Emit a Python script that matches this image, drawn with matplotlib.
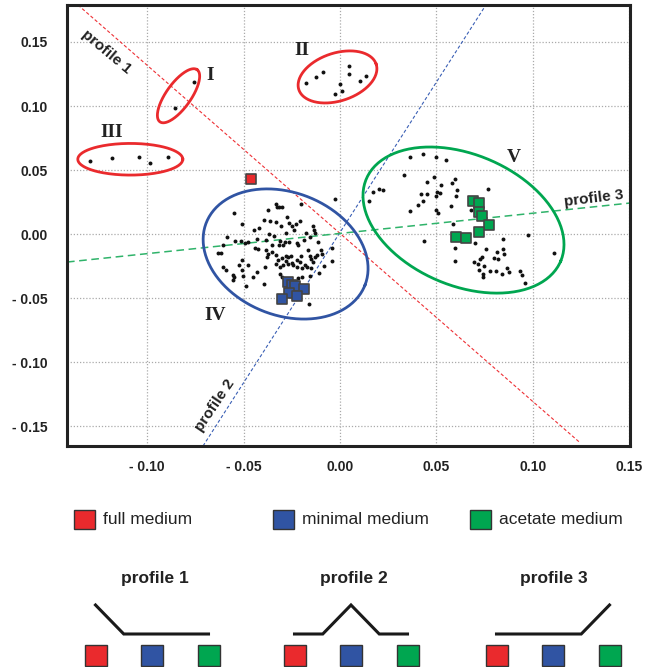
import numpy as np
import matplotlib
matplotlib.use("Agg")
from matplotlib import pyplot as plt
from matplotlib.patches import Rectangle
from matplotlib.ticker import FuncFormatter, MultipleLocator

# --- data -------------------------------------------------------------
# black dots, grouped by cluster
c1_x = [-0.0758, -0.0854]
c1_y = [0.1189, 0.0982]

c2_x = [-0.0176, -0.0123, -0.0086, -0.0027, 0.0002, 0.0010, 0.0045, 0.0045, 0.0105, 0.0133]
c2_y = [0.1178, 0.1224, 0.1268, 0.1091, 0.1169, 0.1114, 0.1313, 0.1252, 0.1198, 0.1234]

c3_x = [-0.1295, -0.1181, -0.1040, -0.0984, -0.0889]
c3_y = [0.0570, 0.0591, 0.0604, 0.0557, 0.0604]

c4_x = [-0.0549, -0.0508, -0.0444, -0.0420, -0.0373, -0.0333, -0.0326, -0.0316, -0.0302, -0.0392,
        -0.0361, -0.0332, -0.0307, -0.0273, -0.0266, -0.0247, -0.0228, -0.0207, -0.0204, -0.0138,
        -0.0135, -0.0178, -0.0238, -0.0280, -0.0604, -0.0587, -0.0544, -0.0513, -0.0491, -0.0475,
        -0.0442, -0.0432, -0.0383, -0.0366, -0.0340, -0.0311, -0.0283, -0.0263, -0.0221, -0.0187,
        -0.0216, -0.0155, -0.0128, -0.0116, -0.0630, -0.0618, -0.0427, -0.0385, -0.0352, -0.0318,
        -0.0294, -0.0371, -0.0378, -0.0351, -0.0332, -0.0320, -0.0302, -0.0282, -0.0268, -0.0254,
        -0.0280, -0.0247, -0.0221, -0.0207, -0.0204, -0.0168, -0.0157, -0.0131, -0.0121, -0.0100,
        -0.0092, -0.0043, -0.0150, -0.0142, -0.0181, -0.0169, -0.0152, -0.0333, -0.0309, -0.0294,
        -0.0271, -0.0242, -0.0225, -0.0199, -0.0606, -0.0591, -0.0525, -0.0506, -0.0477, -0.0508,
        -0.0553, -0.0547, -0.0556, -0.0503, -0.0451, -0.0432, -0.0389, -0.0311, -0.0302, -0.0216,
        -0.0195, -0.0155, -0.0109, -0.0083, -0.0040, -0.0487, -0.0392, -0.0024, -0.0159]
c4_y = [0.0161, 0.0076, 0.0031, 0.0044, 0.0188, 0.0232, 0.0211, 0.0214, 0.0214, 0.0109,
        0.0102, 0.0091, 0.0065, 0.0130, 0.0086, 0.0065, 0.0078, 0.0102, 0.0234, 0.0063,
        0.0031, 0.0010, 0.0031, 0.0010, -0.0086, -0.0021, -0.0052, -0.0055, -0.0068, -0.0063,
        -0.0107, -0.0036, -0.0047, 0.0000, -0.0016, -0.0055, -0.0060, -0.0060, -0.0070, -0.0047,
        -0.0086, -0.0026, 0.0010, -0.0065, -0.0148, -0.0148, -0.0115, -0.0125, -0.0086, -0.0086,
        -0.0083, -0.0159, -0.0182, -0.0141, -0.0164, -0.0203, -0.0190, -0.0169, -0.0177, -0.0174,
        -0.0211, -0.0229, -0.0203, -0.0221, -0.0172, -0.0128, -0.0174, -0.0177, -0.0167, -0.0125,
        -0.0159, -0.0112, -0.0195, -0.0216, -0.0242, -0.0260, -0.0263, -0.0234, -0.0260, -0.0245,
        -0.0237, -0.0245, -0.0255, -0.0268, -0.0260, -0.0281, -0.0245, -0.0203, -0.0242, -0.0281,
        -0.0320, -0.0339, -0.0359, -0.0328, -0.0333, -0.0297, -0.0255, -0.0315, -0.0333, -0.0346,
        -0.0333, -0.0328, -0.0307, -0.0250, -0.0208, -0.0404, -0.0391, 0.0271, -0.0549]

c5_x = [0.0363, 0.0428, 0.0497, 0.0549, 0.0332, 0.0449, 0.0487, 0.0523, 0.0579, 0.0596,
        0.0608, 0.0601, 0.0577, 0.0501, 0.0497, 0.0520, 0.0418, 0.0449, 0.0430, 0.0406,
        0.0365, 0.0499, 0.0508, 0.0200, 0.0221, 0.0173, 0.0150, 0.0587, 0.0437, 0.0597,
        0.0594, 0.0765, 0.0677, 0.0846, 0.0976, 0.0699, 0.0755, 0.0815, 0.0846, 0.0851,
        0.0796, 0.0817, 0.0734, 0.0725, 0.0696, 0.0713, 0.0744, 0.0720, 0.0741, 0.0743,
        0.0777, 0.0807, 0.0841, 0.0864, 0.0876, 0.0933, 0.0945, 0.0958, 0.1111]
c5_y = [0.0599, 0.0625, 0.0604, 0.0578, 0.0458, 0.0406, 0.0448, 0.0383, 0.0396, 0.0430,
        0.0344, 0.0297, 0.0221, 0.0326, 0.0297, 0.0318, 0.0313, 0.0310, 0.0260, 0.0227,
        0.0177, 0.0188, 0.0161, 0.0354, 0.0344, 0.0328, 0.0258, 0.0076, -0.0052, -0.0112,
        -0.0211, 0.0349, 0.0188, -0.0036, -0.0008, -0.0073, -0.0115, -0.0138, -0.0115, -0.0159,
        -0.0190, -0.0193, -0.0177, -0.0198, -0.0221, -0.0237, -0.0250, -0.0281, -0.0315, -0.0333,
        -0.0289, -0.0289, -0.0315, -0.0268, -0.0294, -0.0286, -0.0318, -0.0380, -0.0151]

# coloured samples
full_x = [-0.0463]
full_y = [0.0432]
minimal_x = [-0.0272, -0.0249, -0.0231, -0.0188, -0.0263, -0.0224, -0.0299]
minimal_y = [-0.0377, -0.0395, -0.0410, -0.0427, -0.0459, -0.0484, -0.0507]
acetate_x = [0.0691, 0.0720, 0.0720, 0.0737, 0.0770, 0.0721, 0.0602, 0.0651]
acetate_y = [0.0254, 0.0240, 0.0172, 0.0143, 0.0070, 0.0013, -0.0021, -0.0033]

# groups: label, centre, half axes (in x units), tilt (deg), label position
group_names = ["I", "II", "III", "IV", "V"]
group_cx = [-0.0837, -0.0013, -0.1087, -0.0282, 0.0640]
group_cy = [0.1080, 0.1227, 0.0584, -0.0156, 0.0109]
group_a = [0.0166, 0.0211, 0.0272, 0.0442, 0.0547]
group_b = [0.0064, 0.0124, 0.0082, 0.0318, 0.0340]
group_tilt = [54.5, 18.2, 0.0, -21.5, -22.9]
group_lx = [-0.0674, -0.0195, -0.1183, -0.0648, 0.0903]
group_ly = [0.1242, 0.1430, 0.0794, -0.0633, 0.0599]

# profile axes through the score plot
prof_names = ["profile 1", "profile 2", "profile 3"]
prof_x = [[-0.1358, 0.1244], [-0.0710, 0.0756], [-0.1415, 0.1503]]
prof_y = [[0.1789, -0.1630], [-0.1656, 0.1789], [-0.0219, 0.0242]]
prof_lx = [-0.1212, -0.0648, 0.1316]
prof_ly = [0.1422, -0.1336, 0.0281]
prof_rot = [-40, 56, 7]

medium_names = ["full medium", "minimal medium", "acetate medium"]
# sketch of each profile: high (1) or low (0) for full / minimal / acetate
sketch_levels = [[1, 0, 0], [0, 1, 0], [0, 0, 1]]

RED = "#ea2a2d"
BLUE = "#3054a3"
GREEN = "#00a650"
med_colors = [RED, BLUE, GREEN]
ell_colors = [RED, RED, RED, BLUE, GREEN]
line_colors = ["#ee3035", "#3a5fb5", "#2fb36a"]
TXT = "#222222"

plt.rcParams['font.family'] = ['Liberation Sans', 'DejaVu Sans']

fig = plt.figure(figsize=(6.53, 6.67), dpi=100)
ax = fig.add_axes([67 / 653, 1 - 446 / 667, 563 / 653, 441 / 667])
ax.set_xlim(-0.1415, 0.1503)
ax.set_ylim(-0.1656, 0.1789)

ax.xaxis.set_major_locator(MultipleLocator(0.05))
ax.yaxis.set_major_locator(MultipleLocator(0.05))
fmt = FuncFormatter(lambda v, p: "0.00" if abs(v) < 1e-9 else
                    (f"{v:.2f}" if v > 0 else f"- {abs(v):.2f}"))
ax.xaxis.set_major_formatter(fmt)
ax.yaxis.set_major_formatter(fmt)
ax.tick_params(length=0, labelsize=10, labelcolor=TXT)
ax.tick_params(axis='x', pad=10)
ax.tick_params(axis='y', pad=14)
for lab in ax.get_xticklabels() + ax.get_yticklabels():
    lab.set_fontweight('bold')
ax.grid(True, color='#aaaaaa', linestyle=(0, (1, 1.5)), lw=0.9)
ax.set_axisbelow(True)
for s in ax.spines.values():
    s.set_linewidth(2.2)
    s.set_color(TXT)

# profile lines
dashes = [(0, (3, 2)), (0, (3, 2)), (0, (5, 3))]
widths = [0.8, 0.8, 1.1]
for i in range(3):
    ax.plot(prof_x[i], prof_y[i], color=line_colors[i], lw=widths[i],
            linestyle=dashes[i], zorder=2)
    ax.text(prof_lx[i], prof_ly[i], prof_names[i], rotation=prof_rot[i],
            rotation_mode='anchor', ha='center', va='center', fontsize=11,
            fontweight='bold', color=TXT, zorder=5)

# ellipses: shape is given on screen, so scale y by the pixel aspect
fig.canvas.draw()
bb = ax.get_window_extent()
k = (bb.width / (0.1503 + 0.1415)) / (bb.height / (0.1789 + 0.1656))
t = np.linspace(0, 2 * np.pi, 200)
for i in range(5):
    th = np.radians(group_tilt[i])
    u = group_a[i] * np.cos(t) * np.cos(th) - group_b[i] * np.sin(t) * np.sin(th)
    v = group_a[i] * np.cos(t) * np.sin(th) + group_b[i] * np.sin(t) * np.cos(th)
    ax.plot(group_cx[i] + u, group_cy[i] + v * k, color=ell_colors[i], lw=2.0, zorder=3)
    ax.text(group_lx[i], group_ly[i], group_names[i], ha='center', va='center',
            fontsize=14, fontweight='bold', family='Liberation Serif', color=TXT)

# dots
for xs, ys in [(c1_x, c1_y), (c2_x, c2_y), (c3_x, c3_y), (c4_x, c4_y), (c5_x, c5_y)]:
    ax.scatter(xs, ys, s=8, color='#111111', linewidths=0, zorder=4)

for xs, ys, c in [(full_x, full_y, RED), (minimal_x, minimal_y, BLUE),
                  (acetate_x, acetate_y, GREEN)]:
    ax.scatter(xs, ys, s=55, marker='s', color=c, edgecolors='#444444',
               linewidths=1.2, zorder=6)

# --- lower part: legend and profile sketches (pixel coordinates) -------
ov = fig.add_axes([0, 0, 1, 1])
ov.set_xlim(0, 653)
ov.set_ylim(667, 0)
ov.axis('off')

leg_sq = [84, 283, 480]
for i in range(3):
    ov.add_patch(Rectangle((leg_sq[i] - 10.5, 510), 21, 19, facecolor=med_colors[i],
                           edgecolor='#333333', lw=1))
    ov.text(leg_sq[i] + 19, 520, medium_names[i], fontsize=12.5, color=TXT,
            ha='left', va='center')

title_x = [155, 354, 554]
sq_cx = [152, 351, 553]
step = 56.5
for i in range(3):
    ov.text(title_x[i], 579, prof_names[i], fontsize=12.5, fontweight='bold',
            color=TXT, ha='center', va='center')
    lv = sketch_levels[i]
    xs, ys = [], []
    for j in range(3):
        sx = sq_cx[i] + (j - 1) * step
        if j > 0 and lv[j] != lv[j - 1]:
            # slope joins at the low level half way between the squares
            xs.append(sx - step / 2)
            ys.append(634)
        xs.append(sx)
        ys.append(634 - 29 * lv[j])
    ov.plot(xs, ys, color='#1a1a1a', lw=2.2, solid_joinstyle='miter')
    for j in range(3):
        sx = sq_cx[i] + (j - 1) * step
        ov.add_patch(Rectangle((sx - 11, 645), 22, 21, facecolor=med_colors[j],
                               edgecolor='#333333', lw=1))

fig.savefig("out.png", dpi=100)
